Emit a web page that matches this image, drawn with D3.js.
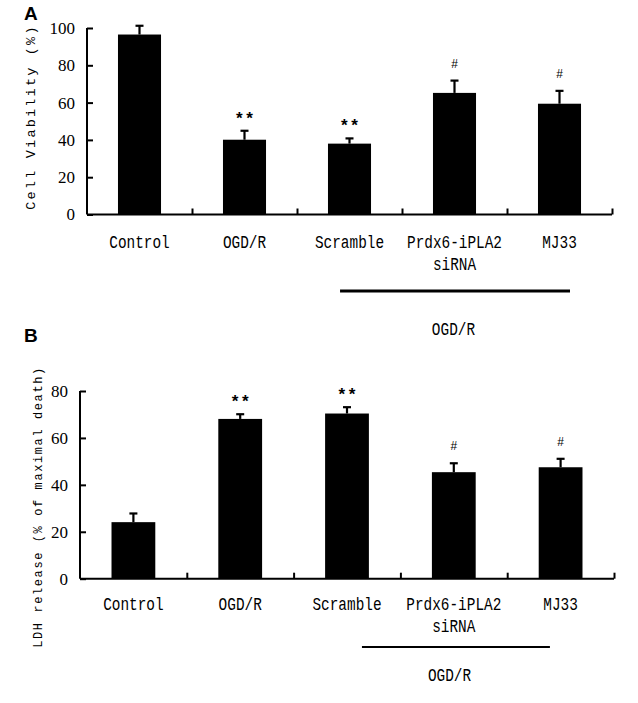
<!DOCTYPE html>
<html>
<head>
<meta charset="utf-8">
<script src="https://cdn.jsdelivr.net/npm/d3@7/dist/d3.min.js"></script>
<style>
  html, body { margin: 0; padding: 0; background: #fff; }
  svg { display: block; }
</style>
</head>
<body>
<svg id="chart" width="638" height="703"></svg>
<script>
// ---------- data ----------
const categories = [["Control"], ["OGD/R"], ["Scramble"], ["Prdx6-iPLA2", "siRNA"], ["MJ33"]];
const viability = [96.5, 40.1, 38.0, 65.2, 59.4];
const viabilityErr = [4.7, 4.8, 2.8, 6.6, 6.9];
const viabilitySig = ["", "**", "**", "#", "#"];
const ldh = [24.1, 68.1, 70.4, 45.4, 47.5];
const ldhErr = [3.7, 2.0, 2.7, 3.8, 3.6];
const ldhSig = ["", "**", "**", "#", "#"];
const yTicksA = [0, 20, 40, 60, 80, 100];
const yTicksB = [0, 20, 40, 60, 80];
const groupLabel = "OGD/R";

// ---------- layout ----------
const panels = [
  {
    letter: "A", letterX: 24, letterY: 20,
    values: viability, errs: viabilityErr, sigs: viabilitySig,
    domain: [0, 100], ticks: yTicksA,
    x0: 87, x1: 612, yBottom: 214.5, yTop: 28,
    yLabel: "Cell Viability (%)", yLabelX: 31, yLabelY: 117, yLabelSize: 13.5, yLabelSpacing: 2.2,
    catBaseline: 248, lineGap: 22,
    bracketFrom: 2.41, bracketTo: 4.6, bracketY: 291, bracketW: 3,
    groupX: 3.49, groupBaseline: 335
  },
  {
    letter: "B", letterX: 24, letterY: 342,
    values: ldh, errs: ldhErr, sigs: ldhSig,
    domain: [0, 80], ticks: yTicksB,
    x0: 80, x1: 614, yBottom: 578.7, yTop: 391,
    yLabel: "LDH release (% of maximal death)", yLabelX: 39, yLabelY: 507, yLabelSize: 12, yLabelSpacing: 1.6,
    catBaseline: 610, lineGap: 22,
    bracketFrom: 2.64, bracketTo: 4.4, bracketY: 647, bracketW: 2,
    groupX: 3.46, groupBaseline: 681
  }
];

const svg = d3.select("#chart");
const monoFont = "'Liberation Mono', 'DejaVu Sans Mono', monospace";
const serifFont = "'Liberation Serif', 'DejaVu Serif', serif";

panels.forEach(p => {
  const g = svg.append("g");
  const n = categories.length;
  const x = d3.scaleBand().domain(d3.range(n)).range([p.x0, p.x1]).padding(0);
  const xIdx = d3.scaleLinear().domain([0, n]).range([p.x0, p.x1]);
  const y = d3.scaleLinear().domain(p.domain).range([p.yBottom, p.yTop]);
  const barW = x.bandwidth() * 0.41;

  // panel letter
  g.append("text")
    .attr("x", p.letterX).attr("y", p.letterY)
    .style("font-family", "'Liberation Sans', Arial, sans-serif")
    .style("font-weight", "bold").style("font-size", "19px")
    .text(p.letter);

  // bars
  g.selectAll("rect.bar").data(p.values).join("rect")
    .attr("class", "bar")
    .attr("x", (d, i) => x(i) + (x.bandwidth() - barW) / 2)
    .attr("width", barW)
    .attr("y", d => y(d))
    .attr("height", d => y(0) - y(d))
    .attr("fill", "#000");

  // error bars (upper)
  const eb = g.selectAll("g.err").data(p.values).join("g").attr("class", "err");
  eb.append("line")
    .attr("x1", (d, i) => x(i) + x.bandwidth() / 2)
    .attr("x2", (d, i) => x(i) + x.bandwidth() / 2)
    .attr("y1", d => y(d))
    .attr("y2", (d, i) => y(d + p.errs[i]))
    .attr("stroke", "#000").attr("stroke-width", 2.2);
  eb.append("line")
    .attr("x1", (d, i) => x(i) + x.bandwidth() / 2 - 4)
    .attr("x2", (d, i) => x(i) + x.bandwidth() / 2 + 4)
    .attr("y1", (d, i) => y(d + p.errs[i]))
    .attr("y2", (d, i) => y(d + p.errs[i]))
    .attr("stroke", "#000").attr("stroke-width", 2.2);

  // significance marks
  g.selectAll("text.sig").data(p.sigs).join("text")
    .attr("class", "sig")
    .attr("x", (d, i) => x(i) + x.bandwidth() / 2)
    .attr("y", (d, i) => {
      const top = y(p.values[i] + p.errs[i]);
      return d === "#" ? top - 13 : top - 7;
    })
    .attr("text-anchor", "middle")
    .style("font-family", monoFont)
    .style("font-weight", d => d === "#" ? "normal" : "bold")
    .style("font-size", d => d === "#" ? "12px" : "17px")
    .text(d => d);

  // y axis
  const yAxis = g.append("g")
    .attr("transform", `translate(${p.x0},0)`)
    .call(d3.axisLeft(y).tickValues(p.ticks).tickSize(-6).tickPadding(12).tickFormat(d3.format("d")));
  yAxis.select(".domain").attr("stroke-width", 2).attr("d", `M0,${y(p.domain[0])}V${y(p.domain[1])}`);
  yAxis.selectAll(".tick line").attr("stroke-width", 2);
  yAxis.selectAll(".tick text")
    .style("font-family", serifFont).style("font-size", "17px").attr("fill", "#000");

  // x axis (baseline with separator ticks pointing up)
  const xAxis = g.append("g")
    .attr("transform", `translate(0,${p.yBottom})`)
    .call(d3.axisBottom(xIdx).tickValues(d3.range(1, n + 1)).tickSize(-6).tickFormat(""));
  xAxis.select(".domain").attr("stroke-width", 2).attr("d", `M${p.x0},0H${p.x1}`);
  xAxis.selectAll(".tick line").attr("stroke-width", 2);

  // category labels
  categories.forEach((lines, i) => {
    lines.forEach((t, k) => {
      g.append("text")
        .attr("transform", `translate(${x(i) + x.bandwidth() / 2},${p.catBaseline + k * p.lineGap}) scale(0.8,1)`)
        .attr("text-anchor", "middle")
        .style("font-family", monoFont).style("font-size", "18px")
        .text(t);
    });
  });

  // group bracket line and label
  g.append("line")
    .attr("x1", xIdx(p.bracketFrom)).attr("x2", xIdx(p.bracketTo))
    .attr("y1", p.bracketY).attr("y2", p.bracketY)
    .attr("stroke", "#000").attr("stroke-width", p.bracketW);
  g.append("text")
    .attr("transform", `translate(${xIdx(p.groupX)},${p.groupBaseline}) scale(0.8,1)`)
    .attr("text-anchor", "middle")
    .style("font-family", monoFont).style("font-size", "18px")
    .text(groupLabel);

  // y axis label
  g.append("text")
    .attr("transform", `translate(${p.yLabelX},${p.yLabelY}) rotate(-90)`)
    .attr("text-anchor", "middle")
    .attr("dominant-baseline", "central")
    .style("font-family", monoFont).style("font-size", p.yLabelSize + "px")
    .style("letter-spacing", p.yLabelSpacing + "px")
    .text(p.yLabel);
});
</script>
</body>
</html>
